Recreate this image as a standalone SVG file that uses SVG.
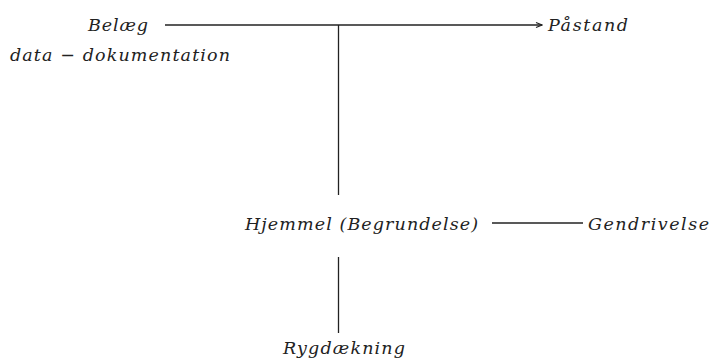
<svg xmlns="http://www.w3.org/2000/svg" width="713" height="363" viewBox="0 0 713 363">
<style>
text{font-family:"DejaVu Serif","Liberation Serif",serif;font-style:italic;font-size:17.5px;fill:#222}
.c{stroke:#222;stroke-width:1.3;fill:none}
</style>
<defs>
<marker id="ah" markerWidth="8" markerHeight="8" refX="7" refY="4" orient="auto" markerUnits="userSpaceOnUse">
<path d="M1,1.5 L7,4 L1,6.5" fill="none" stroke="#222" stroke-width="1.1"/>
</marker>
</defs>
<rect width="713" height="363" fill="#fff"/>
<g id="connectors">
<line class="c" x1="165" y1="25" x2="542" y2="25" marker-end="url(#ah)"/>
<line class="c" x1="338.5" y1="25" x2="338.5" y2="195"/>
<line class="c" x1="492" y1="223" x2="583" y2="223"/>
<line class="c" x1="338.5" y1="257" x2="338.5" y2="333"/>
</g>
<g id="belaeg">
<text x="88" y="31" textLength="60" lengthAdjust="spacing">Belæg</text>
<text x="10" y="61" textLength="220" lengthAdjust="spacing">data − dokumentation</text>
</g>
<g id="paastand"><text x="548" y="31" textLength="80" lengthAdjust="spacing">Påstand</text></g>
<g id="hjemmel"><text x="245" y="230" textLength="233" lengthAdjust="spacing">Hjemmel (Begrundelse)</text></g>
<g id="gendrivelse"><text x="588" y="230" textLength="121" lengthAdjust="spacing">Gendrivelse</text></g>
<g id="rygdaekning"><text x="283" y="354" textLength="122" lengthAdjust="spacing">Rygdækning</text></g>
</svg>
